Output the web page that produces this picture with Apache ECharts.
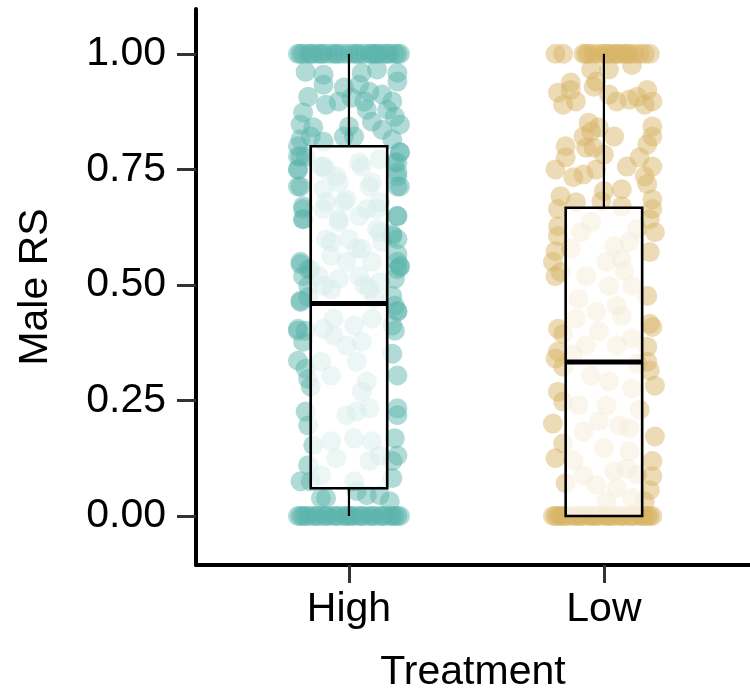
<!DOCTYPE html>
<html>
<head>
<meta charset="utf-8">
<script src="https://cdn.jsdelivr.net/npm/echarts@6/dist/echarts.min.js"></script>
<style>html,body{margin:0;padding:0;background:#fff}#main{width:750px;height:698px}</style>
</head>
<body>
<div id="main"></div>
<script>
const categories = ['High', 'Low'];
const yTicks = [0, 0.25, 0.5, 0.75, 1.0];
// box stats: [min, q1, median, q3, max]
const highStats = [0, 0.06, 0.46, 0.80, 1.00];
const lowStats = [0, 0, 0.333, 0.667, 1.00];

// jitter offsets of the points sitting at RS = 1 and RS = 0
const highTopJitter = [-0.2,-0.19,-0.18,-0.16,-0.15,-0.14,-0.12,-0.11,-0.1,-0.08,-0.06,-0.05,-0.04,-0.02,0,0.02,0.03,0.04,0.06,0.08,0.09,0.1,0.11,0.12,0.14,0.15,0.16,0.18,0.19,0.2];
const highZeroJitter = [-0.2,-0.19,-0.18,-0.17,-0.16,-0.14,-0.13,-0.12,-0.1,-0.09,-0.08,-0.06,-0.05,-0.04,-0.02,-0.01,0,0.01,0.02,0.04,0.05,0.06,0.08,0.09,0.1,0.12,0.13,0.14,0.16,0.17,0.18,0.19,0.2];
const lowTopJitter = [-0.19,-0.16,-0.08,-0.07,-0.06,-0.04,-0.02,0,0.01,0.02,0.04,0.05,0.06,0.08,0.09,0.1,0.12,0.14,0.16,0.18];
const lowZeroJitter = [-0.2,-0.19,-0.18,-0.17,-0.16,-0.15,-0.14,-0.12,-0.11,-0.1,-0.09,-0.08,-0.06,-0.05,-0.04,-0.03,-0.02,0,0.01,0.02,0.03,0.04,0.06,0.07,0.08,0.1,0.11,0.12,0.14,0.15,0.16,0.17,0.18,0.19];

// [jitter, value] for points between 0 and 1
const highMid = [
[-0.17,0.961],[-0.10,0.955],[0.05,0.959],[0.11,0.966],[0.19,0.959],[0.19,0.940],[-0.10,0.933],[-0.02,0.927],[0.04,0.933],[0.08,0.918],
[-0.16,0.907],[-0.09,0.890],[-0.04,0.897],[0.01,0.905],[0.06,0.897],[0.13,0.912],[0.17,0.897],[0.15,0.879],[-0.18,0.873],[-0.19,0.847],
[-0.14,0.841],[0.00,0.843],[0.07,0.879],[0.09,0.853],[0.18,0.864],[0.20,0.847],[0.13,0.836],[-0.19,0.815],[-0.15,0.821],[-0.10,0.810],
[-0.02,0.821],[0.02,0.821],[0.17,0.815],[-0.20,0.778],[-0.17,0.778],[0.20,0.787],[0.18,0.765],[-0.20,0.750],[0.19,0.735],[-0.20,0.713],
[0.20,0.713],[-0.18,0.664],[-0.18,0.642],[0.19,0.649],[0.17,0.606],[-0.19,0.550],[-0.15,0.534],[0.19,0.550],[0.20,0.539],[0.19,0.534],
[-0.10,0.756],[-0.05,0.735],[0.05,0.756],[0.09,0.722],[-0.09,0.679],[-0.01,0.685],[0.07,0.664],[0.12,0.679],[-0.04,0.636],[0.11,0.621],
[-0.07,0.593],[0.03,0.578],[-0.01,0.550],[0.13,0.593],[-0.07,0.49],[0.06,0.50],[-0.12,0.52],[0.10,0.47],
[-0.19,0.463],[-0.16,0.474],[-0.20,0.401],[-0.18,0.377],[-0.20,0.336],[-0.17,0.319],[-0.16,0.297],[-0.15,0.280],[-0.17,0.226],[-0.16,0.196],
[-0.14,0.153],[-0.16,0.110],[-0.19,0.075],[-0.15,0.075],[-0.11,0.039],[-0.09,0.039],
[0.18,0.455],[0.19,0.442],[0.18,0.401],[0.17,0.351],[0.19,0.304],[0.19,0.233],[0.19,0.218],[0.18,0.168],[0.19,0.131],[0.17,0.119],
[0.17,0.082],[0.07,0.045],[0.12,0.045],[0.16,0.032],[0.03,0.054],
[-0.10,0.405],[-0.06,0.390],[-0.01,0.369],[0.05,0.377],[0.03,0.334],[-0.11,0.334],[-0.07,0.304],[0.07,0.291],[0.05,0.269],[0.03,0.226],
[0.08,0.233],[-0.01,0.218],[-0.07,0.162],[0.02,0.168],[0.09,0.162],[-0.05,0.125],[0.08,0.119],[-0.11,0.088],[0.02,0.075],[0.12,0.131],
[-0.20,0.800],[-0.19,0.778],[-0.20,0.750],[-0.19,0.713],[-0.18,0.670],[-0.18,0.642],[-0.19,0.545],[-0.16,0.534],[-0.18,0.519],[-0.16,0.498],
[-0.19,0.466],[-0.20,0.405],[-0.17,0.401],[0.20,0.787],[0.19,0.765],[0.19,0.744],[0.19,0.713],[0.19,0.649],[0.17,0.610],[0.19,0.599],
[0.19,0.567],[0.20,0.541],[0.18,0.513],[0.17,0.476],[0.19,0.444],[0.17,0.412],
[-0.09,0.750],[-0.04,0.722],[-0.10,0.707],[-0.02,0.679],[-0.10,0.664],[-0.04,0.642],[0.08,0.713],[0.11,0.664],[0.04,0.649],[-0.09,0.599],
[0.00,0.599],[0.05,0.578],[0.12,0.614],[-0.07,0.563],[0.09,0.550],[-0.04,0.513],[0.04,0.519],[-0.10,0.498],[0.12,0.506],[0.08,0.491],
[-0.06,0.427],[0.02,0.412],[0.09,0.427],[-0.11,0.756],[0.04,0.765],[0.12,0.772]
];
const lowMid = [
[-0.05,0.966],[0.02,0.966],[0.11,0.976],[-0.03,0.940],[-0.04,0.929],[-0.13,0.938],[-0.13,0.922],[-0.18,0.916],[-0.16,0.890],[-0.11,0.897],
[0.02,0.912],[0.05,0.897],[0.10,0.901],[0.13,0.907],[0.17,0.922],[0.19,0.897],[0.16,0.890],[-0.06,0.851],[-0.02,0.841],[0.04,0.821],
[-0.08,0.821],[-0.05,0.832],[0.19,0.843],[0.19,0.821],[-0.15,0.800],[-0.07,0.797],[-0.04,0.797],[0.17,0.804],[-0.15,0.776],[0.00,0.782],
[0.14,0.776],[-0.19,0.750],[-0.12,0.733],[-0.08,0.739],[-0.03,0.750],[0.09,0.756],[0.19,0.756],[0.16,0.735],[0.17,0.718],[0.00,0.703],
[0.07,0.707],[-0.17,0.692],[-0.18,0.664],[-0.11,0.679],[-0.01,0.681],[0.07,0.670],[0.19,0.685],[0.19,0.664],[0.18,0.642],[-0.18,0.627],
[-0.18,0.606],[0.20,0.614],[-0.19,0.573],[0.18,0.571],[-0.20,0.550],[-0.17,0.528],
[-0.05,0.636],[-0.09,0.614],[0.04,0.584],[0.13,0.621],[0.01,0.550],[0.07,0.556],[-0.13,0.578],[0.10,0.593],
[-0.19,0.519],[-0.18,0.405],[-0.16,0.394],[-0.19,0.341],[-0.18,0.356],[-0.16,0.323],[-0.18,0.269],[-0.16,0.248],[-0.20,0.200],[-0.16,0.157],
[-0.19,0.125],[-0.15,0.071],[0.17,0.476],[0.18,0.416],[0.19,0.409],[0.17,0.366],[0.17,0.334],[0.18,0.315],[0.20,0.282],[0.20,0.172],
[0.19,0.119],[0.19,0.086],[0.18,0.056],[0.16,0.032],
[-0.07,0.519],[0.02,0.498],[0.11,0.498],[-0.03,0.442],[0.07,0.433],[-0.11,0.427],[-0.07,0.369],[0.05,0.369],[0.11,0.384],[-0.05,0.304],
[0.02,0.291],[0.11,0.276],[0.01,0.239],[-0.02,0.205],[0.06,0.196],[0.10,0.190],[-0.08,0.183],[0.00,0.147],[0.10,0.140],[-0.08,0.088],
[0.04,0.097],[0.09,0.103],[-0.03,0.067],[0.05,0.060],[0.01,0.032],[0.11,0.039],
[-0.10,0.470],[0.05,0.455],[-0.12,0.350],[0.13,0.330],[-0.10,0.240],[0.14,0.230],[-0.12,0.120],[0.13,0.090],[-0.02,0.400],[0.08,0.530]
];

const colHigh = 'rgba(90,180,172,0.6)';
const colLow = 'rgba(216,179,101,0.6)';
const FONT = 'Liberation Sans, Arial, Helvetica, sans-serif';

function buildPoints(pos, topJ, zeroJ, mid) {
  const out = [];
  topJ.forEach(j => out.push([pos + j, 1]));
  mid.forEach(p => out.push([pos + p[0], p[1]]));
  zeroJ.forEach(j => out.push([pos + j, 0]));
  return out;
}
const highPts = buildPoints(1, highTopJitter, highZeroJitter, highMid);
const lowPts = buildPoints(2, lowTopJitter, lowZeroJitter, lowMid);
const boxData = [[1].concat(highStats), [2].concat(lowStats)];

const chart = echarts.init(document.getElementById('main'), null, {renderer: 'canvas'});
chart.setOption({
  animation: false,
  backgroundColor: '#fff',
  grid: {left: 196, right: 0, top: 9, bottom: 131, containLabel: false},
  xAxis: {
    type: 'value', min: 0.4, max: 2.573,
    name: 'Treatment', nameLocation: 'middle', nameGap: 87,
    nameTextStyle: {fontFamily: FONT, fontSize: 41, color: '#000'},
    axisLine: {show: true, onZero: false, lineStyle: {color: '#000', width: 4}},
    axisTick: {show: true, length: 18, customValues: [1, 2], lineStyle: {color: '#333', width: 3}},
    axisLabel: {customValues: [1, 2], margin: 24, fontFamily: FONT, fontSize: 41, color: '#000',
      formatter: v => categories[Math.round(v) - 1] || ''},
    splitLine: {show: false}
  },
  yAxis: {
    type: 'value', min: -0.106, max: 1.097,
    name: 'Male RS', nameLocation: 'middle', nameGap: 140, nameRotate: 90,
    nameTextStyle: {fontFamily: FONT, fontSize: 41, color: '#000'},
    axisLine: {show: true, onZero: false, lineStyle: {color: '#000', width: 4}},
    axisTick: {show: true, length: 19, customValues: yTicks, lineStyle: {color: '#333', width: 3}},
    axisLabel: {customValues: yTicks, margin: 30, fontFamily: FONT, fontSize: 41, color: '#000',
      formatter: v => v.toFixed(2)},
    splitLine: {show: false}
  },
  series: [
    {type: 'scatter', data: highPts, symbolSize: 20, itemStyle: {color: colHigh}, z: 2, silent: true},
    {type: 'scatter', data: lowPts, symbolSize: 20, itemStyle: {color: colLow}, z: 2, silent: true},
    {
      type: 'custom', z: 5, silent: true, data: boxData,
      encode: {x: 0, y: [1, 2, 3, 4, 5]},
      renderItem: function (params, api) {
        const c = api.value(0);
        const hw = api.size([0.3, 0])[0] / 2;
        const pMin = api.coord([c, api.value(1)]);
        const pQ1 = api.coord([c, api.value(2)]);
        const pMed = api.coord([c, api.value(3)]);
        const pQ3 = api.coord([c, api.value(4)]);
        const pMax = api.coord([c, api.value(5)]);
        const x = pMin[0];
        const ls = {stroke: '#000', lineWidth: 2.2};
        return {
          type: 'group',
          children: [
            {type: 'line', shape: {x1: x, y1: pQ3[1], x2: x, y2: pMax[1]}, style: ls},
            {type: 'line', shape: {x1: x, y1: pQ1[1], x2: x, y2: pMin[1]}, style: ls},
            {type: 'rect', shape: {x: x - hw, y: pQ3[1], width: hw * 2, height: pQ1[1] - pQ3[1]},
              style: {fill: 'rgba(255,255,255,0.75)', stroke: '#000', lineWidth: 2.6}},
            {type: 'line', shape: {x1: x - hw, y1: pMed[1], x2: x + hw, y2: pMed[1]}, style: {stroke: '#000', lineWidth: 5}}
          ]
        };
      }
    }
  ]
});
</script>
</body>
</html>
